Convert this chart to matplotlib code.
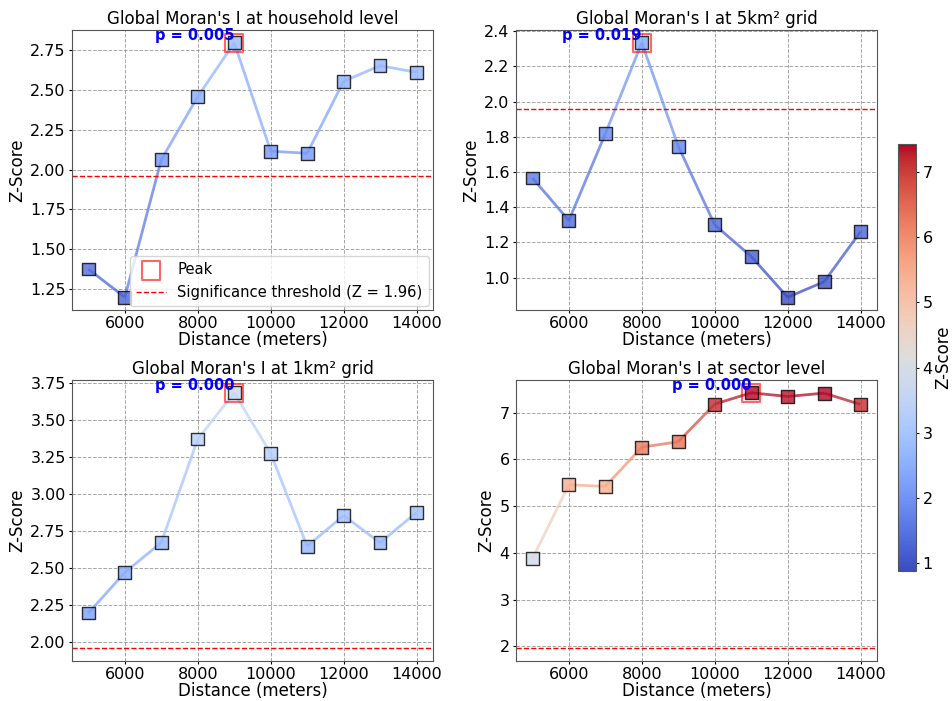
import numpy as np
import matplotlib
matplotlib.use("Agg")
import matplotlib.pyplot as plt
from matplotlib.collections import LineCollection
from matplotlib.colors import Normalize

# Distance bands (meters)
distances = [5000, 6000, 7000, 8000, 9000, 10000, 11000, 12000, 13000, 14000]

# Z-scores of Global Moran's I per aggregation level
z_household = [1.375, 1.198, 2.062, 2.458, 2.796, 2.115, 2.102, 2.554, 2.652, 2.610]
z_grid5 = [1.566, 1.325, 1.817, 2.334, 1.747, 1.300, 1.121, 0.889, 0.977, 1.262]
z_grid1 = [2.197, 2.471, 2.673, 3.371, 3.683, 3.274, 2.648, 2.855, 2.671, 2.877]
z_sector = [3.876, 5.459, 5.424, 6.265, 6.379, 7.185, 7.428, 7.349, 7.421, 7.178]

# p-values at the peak distance
p_peaks = [0.005, 0.019, 0.000, 0.000]

titles = ["Global Moran's I at household level", "Global Moran's I at 5km² grid",
          "Global Moran's I at 1km² grid", "Global Moran's I at sector level"]
series = [z_household, z_grid5, z_grid1, z_sector]

threshold = 1.96
cmap = plt.get_cmap("coolwarm")
all_z = np.concatenate([np.array(s) for s in series])
norm = Normalize(vmin=all_z.min(), vmax=all_z.max())

fig = plt.figure(figsize=(9.52, 7.01), dpi=100)
positions = [
    [0.0756, 0.5578, 0.3792, 0.3994],
    [0.5420, 0.5578, 0.3792, 0.3994],
    [0.0756, 0.0571, 0.3792, 0.4008],
    [0.5420, 0.0571, 0.3792, 0.4008],
]

for i, (pos, z, title, p) in enumerate(zip(positions, series, titles, p_peaks)):
    ax = fig.add_axes(pos)
    x = np.array(distances, dtype=float)
    y = np.array(z)

    # line segments coloured by the mean z of their endpoints
    pts = np.column_stack([x, y]).reshape(-1, 1, 2)
    segs = np.concatenate([pts[:-1], pts[1:]], axis=1)
    lc = LineCollection(segs, cmap=cmap, norm=norm, linewidth=2, alpha=0.75)
    lc.set_array((y[:-1] + y[1:]) / 2)
    ax.add_collection(lc)

    ax.scatter(x, y, c=y, cmap=cmap, norm=norm, marker="s", s=85,
               edgecolors="black", linewidths=1, alpha=0.8, zorder=3)

    k = int(np.argmax(y))
    ax.scatter(x[k], y[k], marker="s", s=170, facecolors="none",
               edgecolors="red", linewidths=1.5, alpha=0.6, zorder=4, label="Peak")
    ax.text(x[k], y[k], f"p = {p:.3f}", color="blue", fontsize=10.5,
            fontweight="bold", ha="right", va="bottom", zorder=5)

    ax.axhline(threshold, color="red", linestyle="--", linewidth=1,
               label=f"Significance threshold (Z = {threshold})")

    ax.set_title(title, fontsize=12, pad=4)
    ax.set_xlabel("Distance (meters)", fontsize=12, labelpad=0)
    ax.set_ylabel("Z-Score", fontsize=12, labelpad=3)
    ax.tick_params(labelsize=11.5, length=2.5, pad=2)
    ax.set_xticks([6000, 8000, 10000, 12000, 14000])
    ax.grid(True, linestyle="--", color="gray", alpha=0.7, linewidth=0.7)
    for sp in ax.spines.values():
        sp.set_color("#555555")
    if i == 0:
        ax.legend(loc="lower right", fontsize=10.6, borderaxespad=0.3)

cax = fig.add_axes([0.9433, 0.1859, 0.0193, 0.6087])
sm = plt.cm.ScalarMappable(cmap=cmap, norm=norm)
cb = fig.colorbar(sm, cax=cax)
cb.set_label("Z-Score", fontsize=12, labelpad=1)
cb.ax.tick_params(labelsize=11.5, length=2.5, pad=2)
cb.outline.set_edgecolor("#555555")

fig.savefig("out.png", dpi=100)
